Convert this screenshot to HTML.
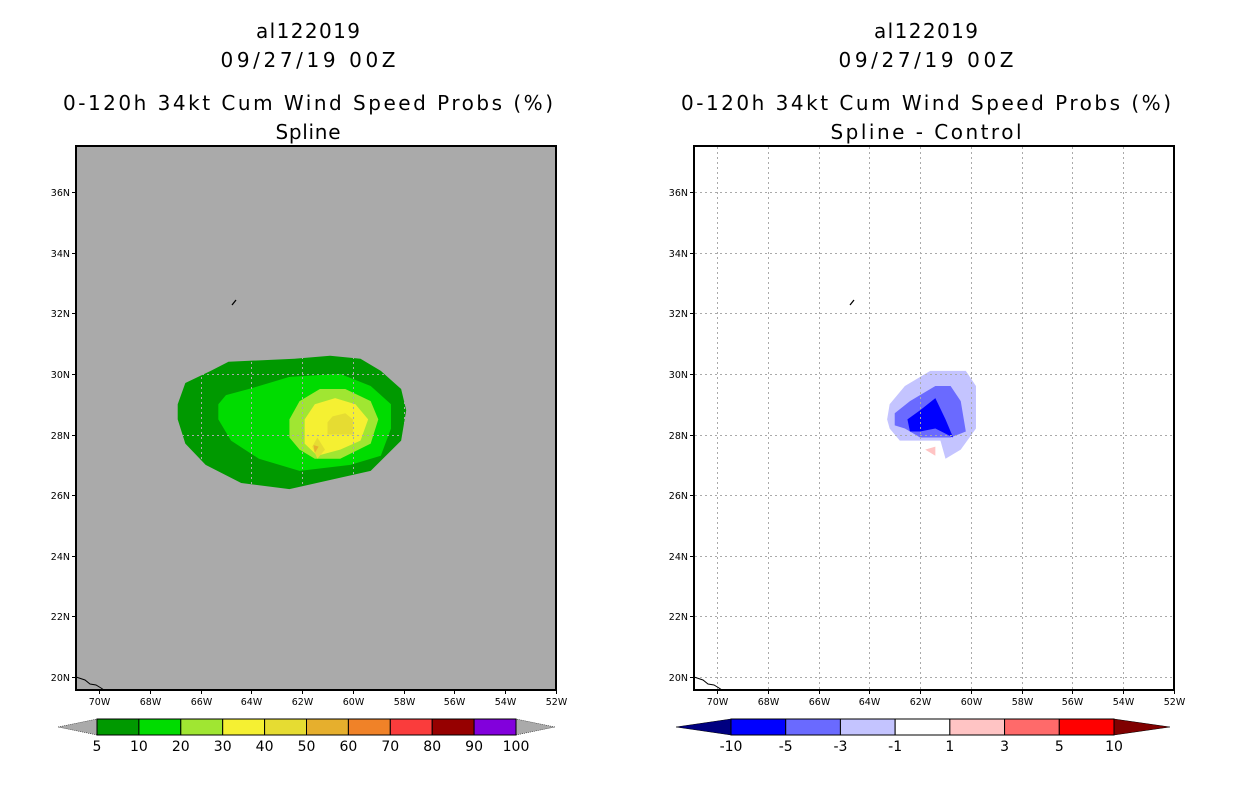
<!DOCTYPE html>
<html><head><meta charset="utf-8"><style>
body{margin:0;background:#fff;width:1236px;height:800px;overflow:hidden}
svg{display:block;font-family:"DejaVu Sans","Liberation Sans",sans-serif}
.t{font-size:20px;text-anchor:middle;fill:#000}
.tk{font-size:9.5px;fill:#000}
</style></head><body>
<svg id="s" width="1236" height="800">
<g>
<text class="t" x="308" y="38" textLength="104" lengthAdjust="spacing">al122019</text>
<text class="t" x="308" y="67" textLength="175" lengthAdjust="spacing">09/27/19 00Z</text>
<text class="t" x="308" y="110" textLength="490" lengthAdjust="spacing">0-120h 34kt Cum Wind Speed Probs (%)</text>
<text class="t" x="308" y="139" textLength="65" lengthAdjust="spacing">Spline</text>
</g>
<g>
<text class="t" x="926" y="38" textLength="104" lengthAdjust="spacing">al122019</text>
<text class="t" x="926" y="67" textLength="175" lengthAdjust="spacing">09/27/19 00Z</text>
<text class="t" x="926" y="110" textLength="490" lengthAdjust="spacing">0-120h 34kt Cum Wind Speed Probs (%)</text>
<text class="t" x="926" y="139" textLength="191" lengthAdjust="spacing">Spline - Control</text>
</g>
</svg>
<script>
const lonTicks=[-70,-68,-66,-64,-62,-60,-58,-56,-54,-52];
const latTicks=[20,22,24,26,28,30,32,34,36];
const leftLevels=['5','10','20','30','40','50','60','70','80','90','100'];
const leftColors=['#009900','#00dc00','#a0e632','#f5f032','#e6dc32','#e6af2d','#f08228','#fa3c3c','#960000','#8200dc'];
const rightLevels=['-10','-5','-3','-1','1','3','5','10'];
const rightColors=['#0000ff','#6a6aff','#c4c4ff','#ffffff','#ffc4c4','#ff6a6a','#ff0000'];
// contour polygons [lon,lat]
const p5=[[-66.9,29.0],[-66.6,29.7],[-65.6,30.1],[-64.9,30.4],[-62.3,30.5],[-60.9,30.6],[-59.7,30.5],[-58.9,30.1],[-58.1,29.5],[-57.9,28.8],[-58.1,27.8],[-59.3,26.8],[-60.9,26.5],[-62.5,26.2],[-64.4,26.4],[-65.8,27.0],[-66.6,27.7],[-66.9,28.5]];
const p10=[[-65.3,29.0],[-65.0,29.3],[-64.1,29.5],[-62.5,29.9],[-60.5,30.0],[-59.3,29.6],[-58.5,29.0],[-58.5,28.2],[-58.9,27.3],[-60.1,27.0],[-62.1,26.8],[-63.7,27.2],[-64.8,27.8],[-65.3,28.5]];
const p20=[[-62.5,28.5],[-62.1,29.1],[-61.3,29.5],[-60.3,29.5],[-59.3,29.1],[-59.0,28.5],[-59.3,27.7],[-60.5,27.2],[-61.5,27.2],[-62.1,27.5],[-62.5,27.9]];
const p30=[[-61.9,28.5],[-61.5,29.0],[-60.7,29.2],[-59.9,29.0],[-59.4,28.5],[-59.7,27.8],[-60.5,27.5],[-61.4,27.3],[-61.9,27.7]];
const p40a=[[-61.0,28.4],[-60.8,28.6],[-60.3,28.7],[-60.0,28.5],[-60.0,28.0],[-61.0,28.0]];
const p40b=[[-61.6,27.6],[-61.4,27.9],[-61.1,27.5],[-61.4,27.2]];
const p50=[[-61.55,27.65],[-61.35,27.6],[-61.5,27.4]];
const n1=[[-63.3,28.5],[-63.2,29.0],[-62.6,29.6],[-61.6,30.1],[-60.2,30.1],[-59.8,29.6],[-59.8,28.2],[-60.4,27.5],[-61.0,27.2],[-61.2,27.8],[-62.0,27.8],[-62.8,27.8],[-63.2,28.2]];
const n3=[[-63.0,28.7],[-62.4,29.1],[-61.4,29.6],[-60.8,29.6],[-60.4,29.1],[-60.2,28.1],[-60.8,27.9],[-62.0,27.9],[-62.6,28.2],[-63.0,28.3]];
const n5=[[-62.5,28.5],[-62.0,28.8],[-61.4,29.2],[-61.0,28.5],[-60.7,27.9],[-61.4,28.2],[-62.0,28.1],[-62.4,28.1]];
const pos1=[[-61.8,27.5],[-61.4,27.6],[-61.4,27.3]];

const svg=document.getElementById('s');const NS='http://www.w3.org/2000/svg';
function mk(t,a,parent){const e=document.createElementNS(NS,t);for(const k in a)e.setAttribute(k,a[k]);(parent||svg).appendChild(e);return e;}
function panel(ox,bg,polys,name){
  const X=lon=>ox+99+(lon+70)*25.39, Y=lat=>677-(lat-20)*30.31;
  const g=mk('g',{});
  
  
  const r=mk('rect',{x:ox+76,y:146,width:480,height:544,fill:bg},g);
  
  
  polys.forEach(([pts,c])=>{
    const p=mk('polygon',{points:pts.map(q=>X(q[0])+','+Y(q[1])).join(' '),fill:c},g);
    
    
  });
  const gc='#aaaaaa';
  lonTicks.forEach(l=>{const x=Math.round(X(l))+0.5;
    if(l<-52){const ln=mk('line',{x1:x,x2:x,y1:147,y2:689,stroke:gc,'stroke-width':1,'stroke-dasharray':'2,3'},g);
    
    }
    mk('line',{x1:x,x2:x,y1:690,y2:694,stroke:'#000'},g);
    const t=mk('text',{x:x,y:705,class:'tk','text-anchor':'middle'},g);t.textContent=(-l)+'W';
    
    
  });
  latTicks.forEach(l=>{const y=Math.round(Y(l))+0.5;
    const ln=mk('line',{x1:ox+77,x2:ox+555,y1:y,y2:y,stroke:gc,'stroke-width':1,'stroke-dasharray':'2,3'},g);
    
    
    mk('line',{x1:ox+72,x2:ox+76,y1:y,y2:y,stroke:'#000'},g);
    const t=mk('text',{x:ox+70,y:y+3.5,class:'tk','text-anchor':'end'},g);t.textContent=l+'N';
    
    
  });
  mk('polyline',{points:`${ox+76},677 ${ox+85},680 ${ox+90},684 ${ox+96},685 ${ox+101},688 ${ox+104},690`,fill:'none',stroke:'#000','stroke-width':1},g);
  mk('line',{x1:ox+232,y1:305,x2:ox+236,y2:300,stroke:'#000','stroke-width':1.3},g);
  const f=mk('rect',{x:ox+76,y:146,width:480,height:544,fill:'none',stroke:'#000','stroke-width':2},g);
  
  
}
panel(0,'#aaaaaa',[[p5,'#009900'],[p10,'#00dc00'],[p20,'#a0e632'],[p30,'#f5f032'],[p40a,'#e6dc32'],[p40b,'#e6dc32'],[p50,'#e6af2d']],'left-map-panel');
panel(618,'#fff',[[n1,'#c4c4ff'],[n3,'#6a6aff'],[n5,'#0000ff'],[pos1,'#ffc4c4']],'right-map-panel');

function cbar(x0,x1,colors,labels,lc,rc,tl,tr,name){
  const g=mk('g',{});
  
  
  const w=(x1-x0)/colors.length;
  mk('polygon',{points:`${tl},727 ${x0},719 ${x0},735`,fill:lc,stroke:'#000','stroke-width':0.5,'stroke-dasharray':lc==='#aaaaaa'?'1,1':''},g);
  mk('polygon',{points:`${tr},727 ${x1},719 ${x1},735`,fill:rc,stroke:'#000','stroke-width':0.5,'stroke-dasharray':rc==='#aaaaaa'?'1,1':''},g);
  colors.forEach((c,i)=>{const r=mk('rect',{x:x0+i*w,y:719,width:w,height:16,fill:c,stroke:'#000','stroke-width':1},g);
    
    });
  labels.forEach((l,i)=>{const t=mk('text',{x:x0+i*w,y:751,'text-anchor':'middle','font-size':'14px'},g);t.textContent=l;
    
    });
}
cbar(97,516,leftColors,leftLevels,'#aaaaaa','#aaaaaa',58,555,'left-colorbar');
cbar(731,1114,rightColors,rightLevels,'#000080','#800000',676,1170,'right-colorbar');
</script>
</body></html>
